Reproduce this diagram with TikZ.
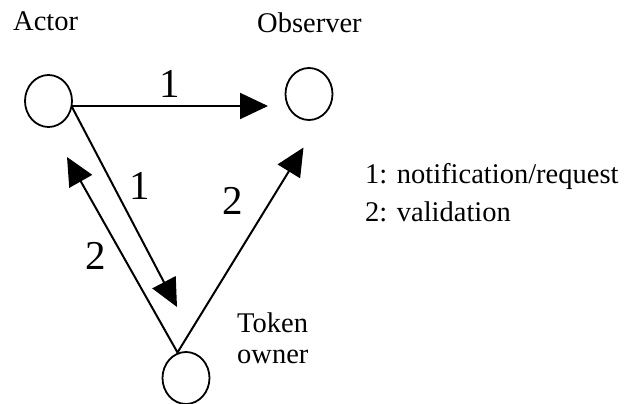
\documentclass[tikz,border=0pt]{standalone}
\usepackage{fontspec}
\setmainfont{Liberation Serif}
\usetikzlibrary{arrows.meta,shapes.geometric}
\begin{document}
\begin{tikzpicture}[x=1pt,y=-1pt,
  party/.style={draw=black,line width=1.8pt,ellipse,inner sep=0pt,
    minimum width=47pt,minimum height=52pt},
  txt/.style={anchor=base west,inner sep=0pt,font=\fontsize{28.5}{34}\selectfont},
  num/.style={inner sep=0pt,font=\fontsize{41}{46}\selectfont},
  msg/.style={line width=2pt,-{Triangle[length=28pt,width=26pt]}}]
\useasboundingbox (0,0) rectangle (629,404);

% the three parties
\node[party] (actor) at (48.5,101) {};
\node[party] (observer) at (309,94) {};
\node[party] (owner) at (186,378) {};

% their names
\node[txt] (actorname) at (13,31) {Actor};
\node[txt] (observername) at (257,33) {Observer};
\node[txt] (ownername1) at (237,332) {Token};
\node[txt] (ownername2) at (237,363) {owner};

% legend
\node[txt] (leg1) at (365,183) {1: notification/request};
\node[txt] (leg2) at (365,221) {2: validation};

% connector ends
\coordinate (actorout) at (72,106);
\coordinate (actordown) at (72,107);
\coordinate (ownertop) at (177.5,352.5);
\coordinate (obsin) at (268,106);
\coordinate (obsin2) at (303.5,147.5);
\coordinate (ownerin) at (177,307);
\coordinate (actorin) at (67,157);

% messages
\draw[msg] (actorout) -- (obsin);
\draw[msg] (actordown) -- (ownerin);
\draw[msg] (ownertop) -- (actorin);
\draw[msg] (ownertop) -- (obsin2);

% message labels
\node[num] (l1a) at (170,84) {1};
\node[num] (l1b) at (139.5,186) {1};
\node[num] (l2a) at (233,201) {2};
\node[num] (l2b) at (96,256) {2};
\end{tikzpicture}
\end{document}
